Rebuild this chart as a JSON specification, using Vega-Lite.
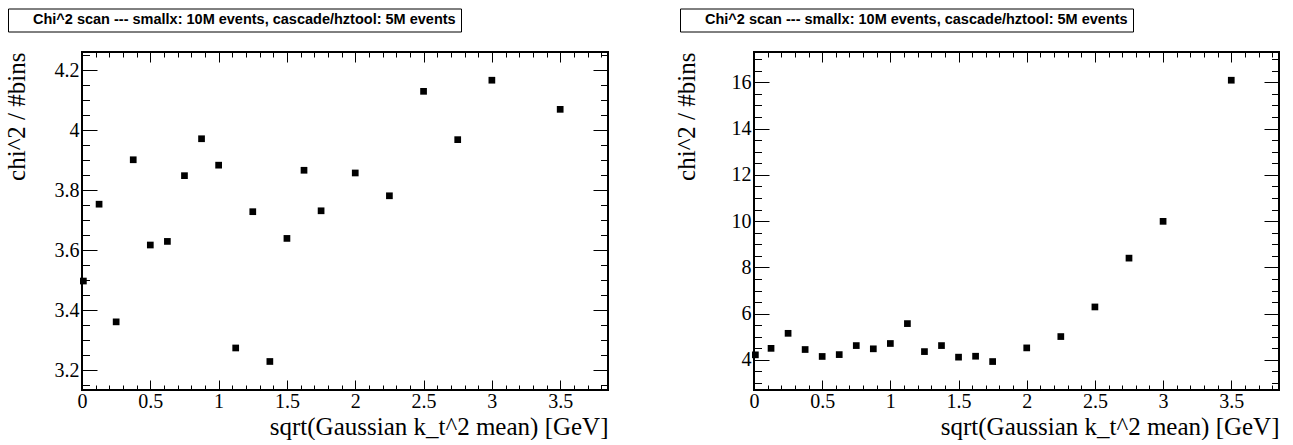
{
  "$schema": "https://vega.github.io/schema/vega-lite/v6.json",
  "background": "white",
  "padding": {"left": 3, "top": 7, "right": 0, "bottom": 0},
  "datasets": {
    "scanA": [
      {"x": 0.01, "chi2": 3.498},
      {"x": 0.125, "chi2": 3.754},
      {"x": 0.25, "chi2": 3.362},
      {"x": 0.375, "chi2": 3.902},
      {"x": 0.5, "chi2": 3.618},
      {"x": 0.625, "chi2": 3.63},
      {"x": 0.75, "chi2": 3.849},
      {"x": 0.875, "chi2": 3.972},
      {"x": 1.0, "chi2": 3.884},
      {"x": 1.125, "chi2": 3.275},
      {"x": 1.25, "chi2": 3.729},
      {"x": 1.375, "chi2": 3.23},
      {"x": 1.5, "chi2": 3.64},
      {"x": 1.625, "chi2": 3.867},
      {"x": 1.75, "chi2": 3.732},
      {"x": 2.0, "chi2": 3.858},
      {"x": 2.25, "chi2": 3.782},
      {"x": 2.5, "chi2": 4.13},
      {"x": 2.75, "chi2": 3.969},
      {"x": 3.0, "chi2": 4.167},
      {"x": 3.5, "chi2": 4.07}
    ],
    "scanB": [
      {"x": 0.01, "chi2": 4.22},
      {"x": 0.125, "chi2": 4.5},
      {"x": 0.25, "chi2": 5.15},
      {"x": 0.375, "chi2": 4.45},
      {"x": 0.5, "chi2": 4.15},
      {"x": 0.625, "chi2": 4.23},
      {"x": 0.75, "chi2": 4.62},
      {"x": 0.875, "chi2": 4.48},
      {"x": 1.0, "chi2": 4.71},
      {"x": 1.125, "chi2": 5.57},
      {"x": 1.25, "chi2": 4.36},
      {"x": 1.375, "chi2": 4.62},
      {"x": 1.5, "chi2": 4.12},
      {"x": 1.625, "chi2": 4.16},
      {"x": 1.75, "chi2": 3.93},
      {"x": 2.0, "chi2": 4.52},
      {"x": 2.25, "chi2": 5.01},
      {"x": 2.5, "chi2": 6.29},
      {"x": 2.75, "chi2": 8.4},
      {"x": 3.0, "chi2": 9.99},
      {"x": 3.5, "chi2": 16.09}
    ]
  },
  "config": {
    "view": {"stroke": "black", "strokeWidth": 2},
    "axis": {
      "grid": false,
      "domain": false,
      "tickColor": "black",
      "tickWidth": 1,
      "labelColor": "black",
      "titleColor": "black",
      "labelFont": "Liberation Serif",
      "titleFont": "Liberation Serif",
      "labelFontSize": 20,
      "titleFontSize": 25,
      "titleFontWeight": "normal",
      "labelFlush": false,
      "labelOverlap": false
    },
    "legend": {
      "orient": "none",
      "legendX": -74,
      "legendY": -43.5,
      "strokeColor": "black",
      "strokeWidth": 1,
      "cornerRadius": 0,
      "padding": 4.5,
      "symbolSize": 0,
      "symbolOpacity": 0,
      "symbolStrokeWidth": 0,
      "labelOffset": 6,
      "labelLimit": 0,
      "labelFont": "Liberation Sans",
      "labelFontWeight": "bold",
      "labelFontSize": 14.5,
      "labelColor": "black",
      "title": null
    }
  },
  "resolve": {"scale": {"color": "independent"}, "legend": {"color": "independent"}},
  "spacing": 63,
  "hconcat": [
    {
      "width": 526,
      "height": 338,
      "data": {"name": "scanA"},
      "resolve": {"axis": {"x": "independent", "y": "independent"}},
      "layer": [
        {
          "mark": {"type": "point", "shape": "square", "filled": true, "size": 45, "opacity": 1},
          "encoding": {
            "x": {"field": "x", "type": "quantitative", "scale": {"domain": [0, 3.85], "nice": false, "zero": false},
              "axis": {"orient": "bottom", "values": [0, 0.5, 1, 1.5, 2, 2.5, 3, 3.5], "format": "~g", "ticks": true, "tickSize": -10, "labelPadding": 11, "title": "sqrt(Gaussian k_t^2 mean) [GeV]", "titleAnchor": "end", "titlePadding": 3}},
            "y": {"field": "chi2", "type": "quantitative", "scale": {"domain": [3.135, 4.261], "nice": false, "zero": false},
              "axis": {"orient": "left", "values": [3.2, 3.4, 3.6, 3.8, 4, 4.2], "format": "~g", "ticks": true, "tickSize": -15, "labelPadding": 18, "title": "chi^2 / #bins", "titleAnchor": "end", "titlePadding": 25}},
            "color": {"datum": "Chi^2 scan --- smallx: 10M events, cascade/hztool: 5M events", "type": "nominal", "scale": {"range": ["black"]}}
          }
        },
        {
          "mark": {"type": "point", "opacity": 0},
          "encoding": {
            "x": {"field": "x", "type": "quantitative", "scale": {"domain": [0, 3.85], "nice": false, "zero": false},
              "axis": {"orient": "top", "values": [0, 0.5, 1, 1.5, 2, 2.5, 3, 3.5], "labelExpr": "'\u00a0'", "labelPadding": 0, "ticks": true, "tickSize": -10, "title": null}},
            "y": {"field": "chi2", "type": "quantitative", "scale": {"domain": [3.135, 4.261], "nice": false, "zero": false},
              "axis": {"orient": "right", "values": [3.2, 3.4, 3.6, 3.8, 4, 4.2], "labelExpr": "'\u00a0'", "labelPadding": 0, "ticks": true, "tickSize": -15, "title": null}}
          }
        },
        {
          "mark": {"type": "point", "opacity": 0},
          "encoding": {
            "x": {"field": "x", "type": "quantitative", "scale": {"domain": [0, 3.85], "nice": false, "zero": false},
              "axis": {"orient": "top", "values": [0.1, 0.2, 0.3, 0.4, 0.6, 0.7, 0.8, 0.9, 1.1, 1.2, 1.3, 1.4, 1.6, 1.7, 1.8, 1.9, 2.1, 2.2, 2.3, 2.4, 2.6, 2.7, 2.8, 2.9, 3.1, 3.2, 3.3, 3.4, 3.6, 3.7, 3.8], "labelExpr": "'\u00a0'", "labelPadding": 0, "ticks": true, "tickSize": -5, "title": null}},
            "y": {"field": "chi2", "type": "quantitative", "scale": {"domain": [3.135, 4.261], "nice": false, "zero": false},
              "axis": {"orient": "right", "values": [3.15, 3.25, 3.3, 3.35, 3.45, 3.5, 3.55, 3.65, 3.7, 3.75, 3.85, 3.9, 3.95, 4.05, 4.1, 4.15, 4.25], "labelExpr": "'\u00a0'", "labelPadding": 0, "ticks": true, "tickSize": -7.5, "title": null}}
          }
        },
        {
          "mark": {"type": "point", "opacity": 0},
          "encoding": {
            "x": {"field": "x", "type": "quantitative", "scale": {"domain": [0, 3.85], "nice": false, "zero": false},
              "axis": {"orient": "bottom", "values": [0.1, 0.2, 0.3, 0.4, 0.6, 0.7, 0.8, 0.9, 1.1, 1.2, 1.3, 1.4, 1.6, 1.7, 1.8, 1.9, 2.1, 2.2, 2.3, 2.4, 2.6, 2.7, 2.8, 2.9, 3.1, 3.2, 3.3, 3.4, 3.6, 3.7, 3.8], "labelExpr": "'\u00a0'", "labelPadding": 0, "ticks": true, "tickSize": -5, "title": null}},
            "y": {"field": "chi2", "type": "quantitative", "scale": {"domain": [3.135, 4.261], "nice": false, "zero": false},
              "axis": {"orient": "left", "values": [3.15, 3.25, 3.3, 3.35, 3.45, 3.5, 3.55, 3.65, 3.7, 3.75, 3.85, 3.9, 3.95, 4.05, 4.1, 4.15, 4.25], "labelExpr": "'\u00a0'", "labelPadding": 0, "ticks": true, "tickSize": -7.5, "title": null}}
          }
        }
      ]
    },
    {
      "width": 525,
      "height": 338,
      "data": {"name": "scanB"},
      "resolve": {"axis": {"x": "independent", "y": "independent"}},
      "layer": [
        {
          "mark": {"type": "point", "shape": "square", "filled": true, "size": 45, "opacity": 1},
          "encoding": {
            "x": {"field": "x", "type": "quantitative", "scale": {"domain": [0, 3.85], "nice": false, "zero": false},
              "axis": {"orient": "bottom", "values": [0, 0.5, 1, 1.5, 2, 2.5, 3, 3.5], "format": "~g", "ticks": true, "tickSize": -10, "labelPadding": 11, "title": "sqrt(Gaussian k_t^2 mean) [GeV]", "titleAnchor": "end", "titlePadding": 3}},
            "y": {"field": "chi2", "type": "quantitative", "scale": {"domain": [2.7, 17.31], "nice": false, "zero": false},
              "axis": {"orient": "left", "values": [4, 6, 8, 10, 12, 14, 16], "format": "~g", "ticks": true, "tickSize": -15, "labelPadding": 18, "title": "chi^2 / #bins", "titleAnchor": "end", "titlePadding": 32}},
            "color": {"datum": "Chi^2 scan --- smallx: 10M events, cascade/hztool: 5M events", "type": "nominal", "scale": {"range": ["black"]}}
          }
        },
        {
          "mark": {"type": "point", "opacity": 0},
          "encoding": {
            "x": {"field": "x", "type": "quantitative", "scale": {"domain": [0, 3.85], "nice": false, "zero": false},
              "axis": {"orient": "top", "values": [0, 0.5, 1, 1.5, 2, 2.5, 3, 3.5], "labelExpr": "'\u00a0'", "labelPadding": 0, "ticks": true, "tickSize": -10, "title": null}},
            "y": {"field": "chi2", "type": "quantitative", "scale": {"domain": [2.7, 17.31], "nice": false, "zero": false},
              "axis": {"orient": "right", "values": [4, 6, 8, 10, 12, 14, 16], "labelExpr": "'\u00a0'", "labelPadding": 0, "ticks": true, "tickSize": -15, "title": null}}
          }
        },
        {
          "mark": {"type": "point", "opacity": 0},
          "encoding": {
            "x": {"field": "x", "type": "quantitative", "scale": {"domain": [0, 3.85], "nice": false, "zero": false},
              "axis": {"orient": "top", "values": [0.1, 0.2, 0.3, 0.4, 0.6, 0.7, 0.8, 0.9, 1.1, 1.2, 1.3, 1.4, 1.6, 1.7, 1.8, 1.9, 2.1, 2.2, 2.3, 2.4, 2.6, 2.7, 2.8, 2.9, 3.1, 3.2, 3.3, 3.4, 3.6, 3.7, 3.8], "labelExpr": "'\u00a0'", "labelPadding": 0, "ticks": true, "tickSize": -5, "title": null}},
            "y": {"field": "chi2", "type": "quantitative", "scale": {"domain": [2.7, 17.31], "nice": false, "zero": false},
              "axis": {"orient": "right", "values": [3, 3.5, 4.5, 5, 5.5, 6.5, 7, 7.5, 8.5, 9, 9.5, 10.5, 11, 11.5, 12.5, 13, 13.5, 14.5, 15, 15.5, 16.5, 17], "labelExpr": "'\u00a0'", "labelPadding": 0, "ticks": true, "tickSize": -7.5, "title": null}}
          }
        },
        {
          "mark": {"type": "point", "opacity": 0},
          "encoding": {
            "x": {"field": "x", "type": "quantitative", "scale": {"domain": [0, 3.85], "nice": false, "zero": false},
              "axis": {"orient": "bottom", "values": [0.1, 0.2, 0.3, 0.4, 0.6, 0.7, 0.8, 0.9, 1.1, 1.2, 1.3, 1.4, 1.6, 1.7, 1.8, 1.9, 2.1, 2.2, 2.3, 2.4, 2.6, 2.7, 2.8, 2.9, 3.1, 3.2, 3.3, 3.4, 3.6, 3.7, 3.8], "labelExpr": "'\u00a0'", "labelPadding": 0, "ticks": true, "tickSize": -5, "title": null}},
            "y": {"field": "chi2", "type": "quantitative", "scale": {"domain": [2.7, 17.31], "nice": false, "zero": false},
              "axis": {"orient": "left", "values": [3, 3.5, 4.5, 5, 5.5, 6.5, 7, 7.5, 8.5, 9, 9.5, 10.5, 11, 11.5, 12.5, 13, 13.5, 14.5, 15, 15.5, 16.5, 17], "labelExpr": "'\u00a0'", "labelPadding": 0, "ticks": true, "tickSize": -7.5, "title": null}}
          }
        }
      ]
    }
  ]
}
